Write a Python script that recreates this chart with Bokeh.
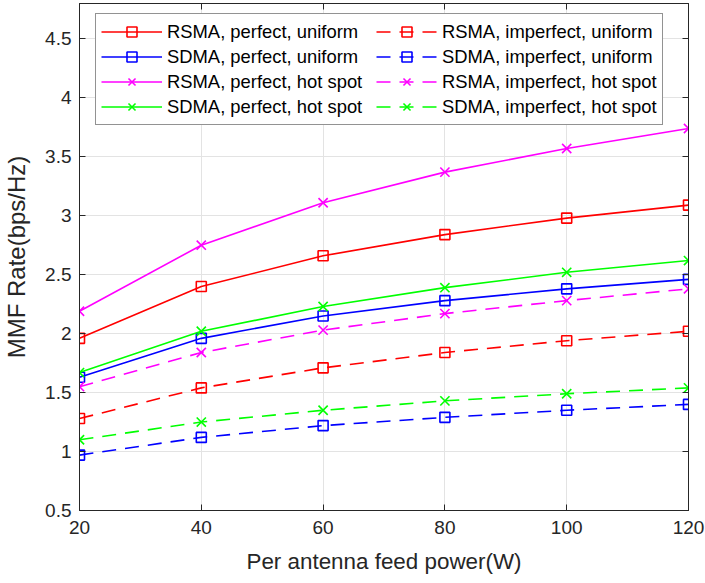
from bokeh.plotting import figure
from bokeh.models import Legend, LegendItem, LinearAxis, FixedTicker, Range1d
from bokeh.embed import file_html
from bokeh.resources import INLINE

power = [20, 40, 60, 80, 100, 120]
rsma_perf_uni = [1.96, 2.40, 2.66, 2.84, 2.98, 3.09]
sdma_perf_uni = [1.63, 1.96, 2.15, 2.28, 2.38, 2.46]
rsma_perf_hot = [2.19, 2.75, 3.11, 3.37, 3.57, 3.74]
sdma_perf_hot = [1.67, 2.02, 2.23, 2.39, 2.52, 2.62]
rsma_imp_uni = [1.28, 1.54, 1.71, 1.84, 1.94, 2.02]
sdma_imp_uni = [0.97, 1.12, 1.22, 1.29, 1.35, 1.40]
rsma_imp_hot = [1.55, 1.84, 2.03, 2.17, 2.28, 2.38]
sdma_imp_hot = [1.10, 1.25, 1.35, 1.43, 1.49, 1.54]

x_ticks = [20, 40, 60, 80, 100, 120]
y_ticks = [0.5, 1, 1.5, 2, 2.5, 3, 3.5, 4, 4.5]
y_tick_labels = ["0.5", "1", "1.5", "2", "2.5", "3", "3.5", "4", "4.5"]

FONT = "Liberation Sans"
INK = "#262626"
p = figure(width=705, height=583, output_backend="svg", toolbar_location=None,
           x_range=Range1d(20, 120), y_range=Range1d(0.5, 4.8),
           min_border_left=78, min_border_right=17, min_border_top=3, min_border_bottom=73)
p.outline_line_color = INK
p.outline_line_width = 1
p.background_fill_color = "white"

for ax in (p.xaxis[0], p.yaxis[0]):
    ax.major_tick_in = 6
    ax.major_tick_out = 0
    ax.minor_tick_line_color = None
    ax.axis_line_color = INK
    ax.major_tick_line_color = INK
    ax.major_label_text_font = FONT
    ax.major_label_text_font_size = "19px"
    ax.major_label_text_color = INK
    ax.axis_label_text_font = FONT
    ax.axis_label_text_font_style = "normal"
    ax.axis_label_text_color = INK
p.xaxis.ticker = FixedTicker(ticks=x_ticks)
p.yaxis.ticker = FixedTicker(ticks=y_ticks)
p.yaxis.major_label_overrides = dict(zip(y_ticks, y_tick_labels))
p.xaxis.axis_label = "Per antenna feed power(W)"
p.yaxis.axis_label = "MMF Rate(bps/Hz)"
p.xaxis.axis_label_text_font_size = "22.4px"
p.yaxis.axis_label_text_font_size = "24px"
p.xaxis.major_label_standoff = 10
p.yaxis.major_label_standoff = 8
p.xaxis.axis_label_standoff = 12
p.yaxis.axis_label_standoff = 12

# mirrored ticks on top/right (no labels)
top = LinearAxis(ticker=FixedTicker(ticks=x_ticks),
                 major_label_overrides={t: "" for t in x_ticks},
                 major_tick_in=6, major_tick_out=0, minor_tick_line_color=None,
                 axis_line_color=INK, major_tick_line_color=INK, major_label_standoff=0)
right = LinearAxis(ticker=FixedTicker(ticks=y_ticks),
                   major_label_overrides={t: "" for t in y_ticks},
                   major_tick_in=6, major_tick_out=0, minor_tick_line_color=None,
                   axis_line_color=INK, major_tick_line_color=INK, major_label_standoff=0)
p.add_layout(top, "above")
p.add_layout(right, "right")

p.grid.grid_line_color = "#e3e3e3"
p.grid.grid_line_width = 1
p.xgrid.ticker = FixedTicker(ticks=x_ticks)
p.ygrid.ticker = FixedTicker(ticks=y_ticks)

DASH = "14 9"
series = [
    ("RSMA, perfect, uniform", rsma_perf_uni, "#ff0000", "solid", "square"),
    ("SDMA, perfect, uniform", sdma_perf_uni, "#0000ff", "solid", "square"),
    ("RSMA, perfect, hot spot", rsma_perf_hot, "#ff00ff", "solid", "x"),
    ("SDMA, perfect, hot spot", sdma_perf_hot, "#00ff00", "solid", "x"),
    ("RSMA, imperfect, uniform", rsma_imp_uni, "#ff0000", DASH, "square"),
    ("SDMA, imperfect, uniform", sdma_imp_uni, "#0000ff", DASH, "square"),
    ("RSMA, imperfect, hot spot", rsma_imp_hot, "#ff00ff", DASH, "x"),
    ("SDMA, imperfect, hot spot", sdma_imp_hot, "#00ff00", DASH, "x"),
]

items = []
for label, ys, color, dash, marker in series:
    ln = p.line(power, ys, line_color=color, line_width=1.6, line_dash=dash)
    if marker == "square":
        mk = p.scatter(power, ys, marker="square", size=10, fill_color=None,
                       line_color=color, line_width=1.6)
    else:
        mk = p.scatter(power, ys, marker="x", size=13, line_color=color, line_width=1.6)
    items.append(LegendItem(label=label, renderers=[ln, mk]))

legend = Legend(items=items, location=(16, 385), orientation="vertical", nrows=4,
                label_text_font=FONT, label_text_font_size="18.4px", label_text_color="#000000",
                glyph_width=61, glyph_height=25, spacing=0, label_standoff=5, label_width=209,
                label_height=25, padding=5, border_line_color=INK, border_line_width=1,
                background_fill_alpha=1, margin=0)
p.add_layout(legend, "center")

open("out.html", "w").write(file_html(p, INLINE))
